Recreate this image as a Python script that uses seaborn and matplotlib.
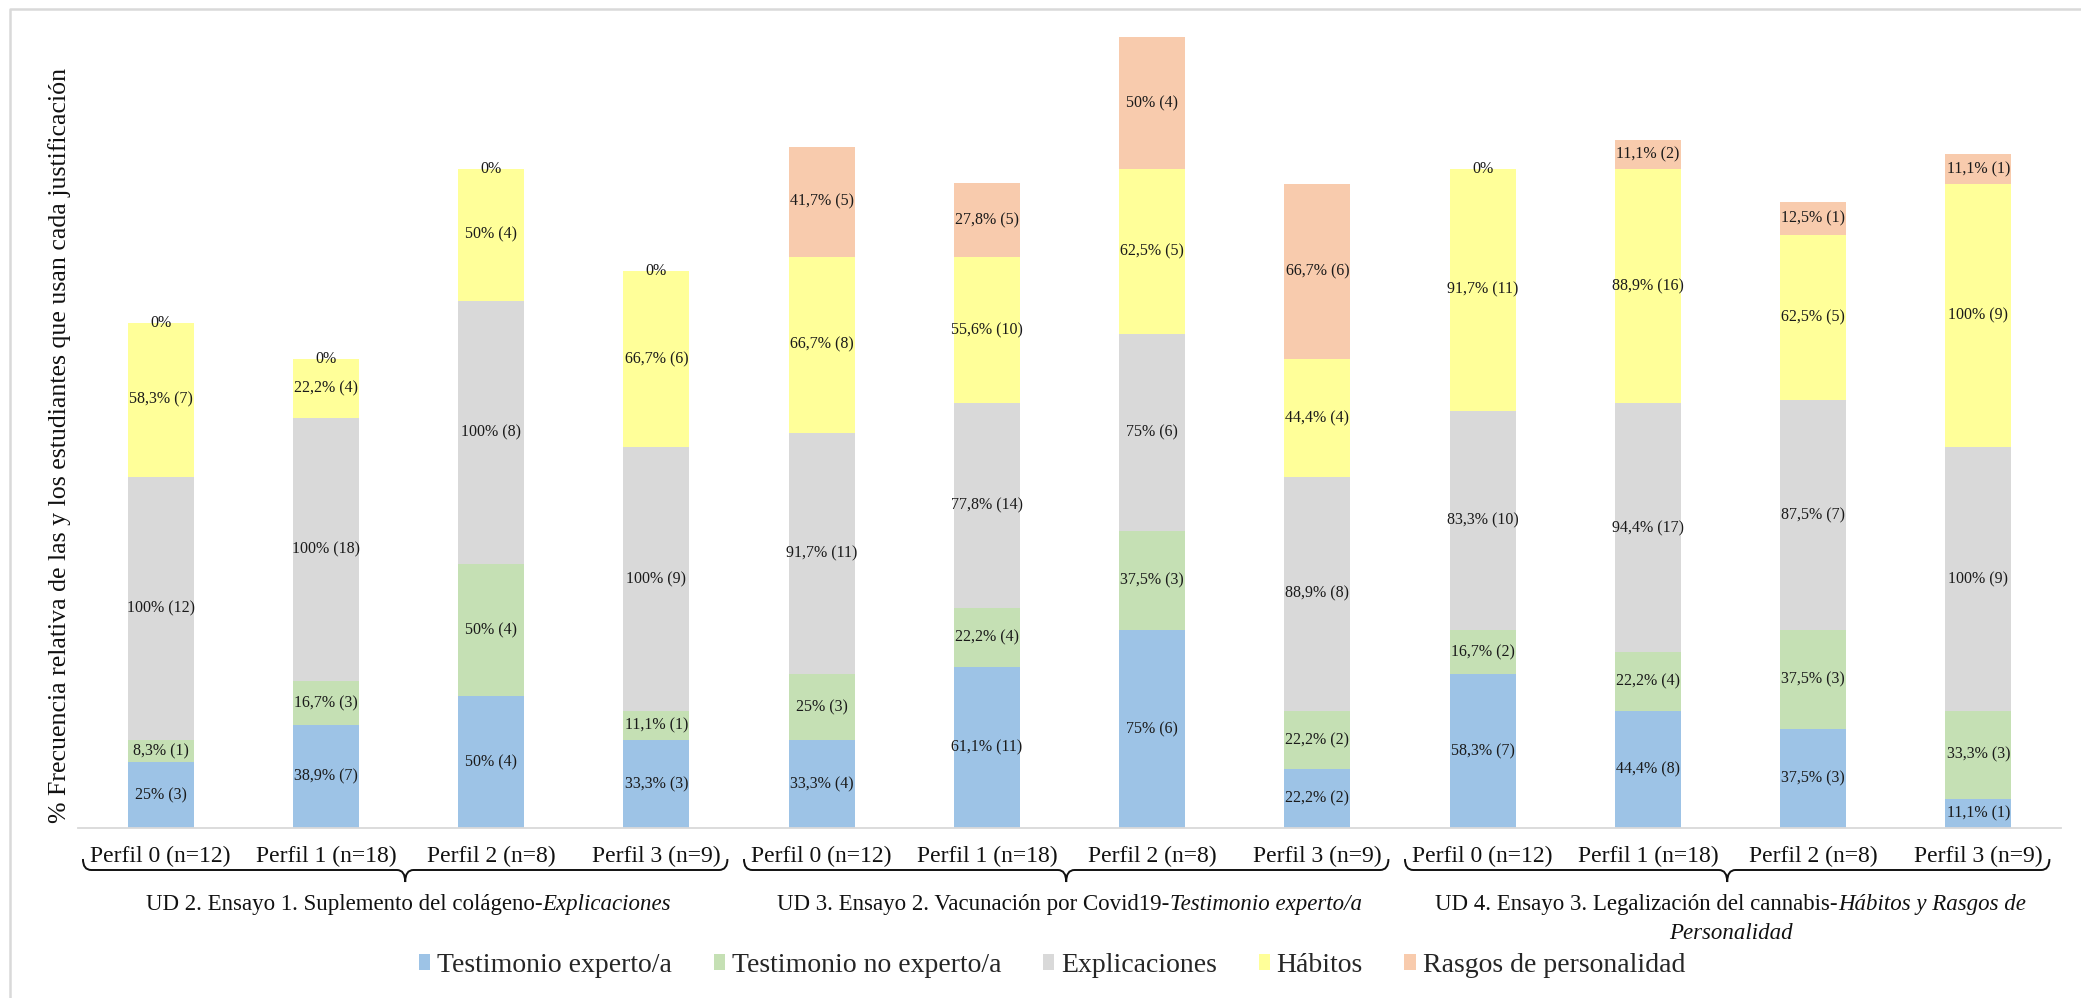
import numpy as np
import pandas as pd
import matplotlib
matplotlib.use("Agg")
import matplotlib.pyplot as plt
import seaborn as sns
from matplotlib.path import Path
from matplotlib.patches import PathPatch, Patch
from matplotlib.lines import Line2D
import matplotlib.transforms as mtransforms

# ---------------- data ----------------
profiles = ["Perfil 0 (n=12)", "Perfil 1 (n=18)", "Perfil 2 (n=8)", "Perfil 3 (n=9)"]
groups = ["UD2", "UD3", "UD4"]
series = ["Testimonio experto/a", "Testimonio no experto/a", "Explicaciones",
          "Hábitos", "Rasgos de personalidad"]
colors = ["#9DC3E6", "#C5E0B4", "#D9D9D9", "#FFFF99", "#F8CBAD"]

pct_experto = [25, 38.9, 50, 33.3, 33.3, 61.1, 75, 22.2, 58.3, 44.4, 37.5, 11.1]
n_experto = [3, 7, 4, 3, 4, 11, 6, 2, 7, 8, 3, 1]
pct_no_experto = [8.3, 16.7, 50, 11.1, 25, 22.2, 37.5, 22.2, 16.7, 22.2, 37.5, 33.3]
n_no_experto = [1, 3, 4, 1, 3, 4, 3, 2, 2, 4, 3, 3]
pct_explicaciones = [100, 100, 100, 100, 91.7, 77.8, 75, 88.9, 83.3, 94.4, 87.5, 100]
n_explicaciones = [12, 18, 8, 9, 11, 14, 6, 8, 10, 17, 7, 9]
pct_habitos = [58.3, 22.2, 50, 66.7, 66.7, 55.6, 62.5, 44.4, 91.7, 88.9, 62.5, 100]
n_habitos = [7, 4, 4, 6, 8, 10, 5, 4, 11, 16, 5, 9]
pct_rasgos = [0, 0, 0, 0, 41.7, 27.8, 50, 66.7, 0, 11.1, 12.5, 11.1]
n_rasgos = [0, 0, 0, 0, 5, 5, 4, 6, 0, 2, 1, 1]

group_label_roman = ["UD 2. Ensayo 1. Suplemento del colágeno-",
                     "UD 3. Ensayo 2. Vacunación por Covid19-",
                     "UD 4. Ensayo 3. Legalización del cannabis-"]
group_label_italic = ["Explicaciones", "Testimonio experto/a", "Hábitos y Rasgos de"]
group_label_line2 = ["", "", "Personalidad"]

ylabel = "% Frecuencia relativa de las y los estudiantes que usan cada justificación"

# ---------------- figure ----------------
sns.set_theme(style="white")
plt.rcParams["font.family"] = ["Liberation Serif", "DejaVu Serif"]

W, H = 2081, 998
fig = plt.figure(figsize=(W / 100, H / 100), dpi=100)
ax = fig.add_axes([78 / W, 1 - 828 / H, (2061 - 78) / W, (828 - 37) / H])

keys = [f"{g}|{p}" for g in groups for p in profiles]
pcts = [pct_experto, pct_no_experto, pct_explicaciones, pct_habitos, pct_rasgos]
counts = [n_experto, n_no_experto, n_explicaciones, n_habitos, n_rasgos]

bottom = np.zeros(len(keys))
for name, pct, cnt, col in zip(series, pcts, counts, colors):
    df = pd.DataFrame({"bar": keys, "pct": pct})
    sns.barplot(data=df, x="bar", y="pct", order=keys, color=col, width=0.4,
                saturation=1, linewidth=0, errorbar=None, bottom=bottom.copy(), ax=ax)
    for i, (v, n) in enumerate(zip(pct, cnt)):
        if v == 0:
            lab = "0%"
        else:
            s = f"{int(v)}" if float(v).is_integer() else f"{v:.1f}".replace(".", ",")
            lab = f"{s}% ({n})"
        ax.text(i, bottom[i] + v / 2, lab, ha="center", va="center",
                fontsize=11.5, color="#1a1a1a")
    bottom = bottom + np.array(pct, dtype=float)

ax.set_xlim(-0.5, len(keys) - 0.5)
ax.set_ylim(0, 300)
ax.set_yticks([])
ax.set_xlabel("")
ax.set_ylabel("")
ax.set_xticks(range(len(keys)))
ax.set_xticklabels(profiles * len(groups), fontsize=17, color="#111111")
ax.tick_params(axis="x", length=0, pad=13)
for sp in ["top", "right", "left"]:
    ax.spines[sp].set_visible(False)
ax.spines["bottom"].set_color("#D9D9D9")
ax.spines["bottom"].set_linewidth(1.3)

# y label
fig.text(60 / W, 1 - 445 / H, ylabel, rotation=90, ha="center", va="center",
         fontsize=18.6, color="#111111")

# braces
trans = mtransforms.blended_transform_factory(ax.transData, fig.transFigure)
y_line = 1 - 870 / H
y_hook = 1 - 859 / H
y_notch = 1 - 882 / H
dx = 0.05
for gi in range(len(groups)):
    x0 = gi * 4 - 0.47
    x1 = gi * 4 + 3.43
    xc = (x0 + x1) / 2
    verts = [(x0, y_hook), (x0, y_line), (x0 + dx, y_line),
             (xc - dx, y_line), (xc, y_line), (xc, y_notch),
             (xc, y_line), (xc + dx, y_line),
             (x1 - dx, y_line), (x1, y_line), (x1, y_hook)]
    codes = [Path.MOVETO, Path.CURVE3, Path.CURVE3,
             Path.LINETO, Path.CURVE3, Path.CURVE3,
             Path.CURVE3, Path.CURVE3,
             Path.LINETO, Path.CURVE3, Path.CURVE3]
    fig.add_artist(PathPatch(Path(verts, codes), transform=trans, fill=False,
                             edgecolor="#111111", linewidth=1.4, clip_on=False))

# group labels (roman + italic parts)
fig.canvas.draw()
renderer = fig.canvas.get_renderer()
fs_g = 16.5
for gi in range(len(groups)):
    xc_px = ax.transData.transform((gi * 4 + 1.5, 0))[0]
    t1 = fig.text(0, 0, group_label_roman[gi], fontsize=fs_g, color="#111111")
    t2 = fig.text(0, 0, group_label_italic[gi], fontsize=fs_g, style="italic", color="#111111")
    w1 = t1.get_window_extent(renderer).width
    w2 = t2.get_window_extent(renderer).width
    start = xc_px - (w1 + w2) / 2
    yb = 1 - 910 / H
    t1.set_position((start / W, yb))
    t1.set_va("baseline")
    t2.set_position(((start + w1) / W, yb))
    t2.set_va("baseline")
    if group_label_line2[gi]:
        fig.text(xc_px / W, 1 - 939 / H, group_label_line2[gi], fontsize=fs_g,
                 style="italic", ha="center", va="baseline", color="#111111")

# legend
handles = [Patch(facecolor=c, edgecolor="none", label=s) for s, c in zip(series, colors)]
fig.legend(handles=handles, loc="center", bbox_to_anchor=(1052 / W, 1 - 965 / H),
           ncol=5, frameon=False, fontsize=20, handlelength=0.4, handleheight=0.5,
           handletextpad=0.25, columnspacing=1.5, borderaxespad=0, borderpad=0)

# outer frame (top and left visible)
fig.add_artist(Line2D([10 / W, 10 / W, 1.0], [0.0, 1 - 9 / H, 1 - 9 / H],
                      transform=fig.transFigure, color="#D9D9D9", linewidth=1.8))

fig.savefig("out.png", dpi=100)
